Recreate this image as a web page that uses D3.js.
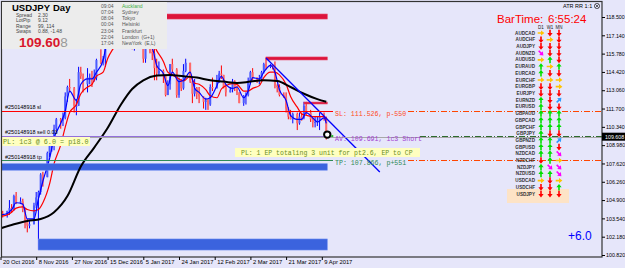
<!DOCTYPE html>
<meta charset="utf-8">
<title>USDJPY Day</title>
<style>
    body {
        margin: 0;
        background: #e6e6fa;
    }
    svg {
        display: block;
        font-family: "Liberation Sans", Arial, sans-serif;
    }
</style>

<body>
    <script src="https://cdn.jsdelivr.net/npm/d3@7"></script>
    <script>
        /* Daily USDJPY bars, 20 Oct 2016 .. 11 Apr 2017 (weekdays) */
        var firstDay = "2016-10-20", lastDay = "2017-04-11";
        var holidays = ["2016-12-25", "2017-01-01"];

        var opens = [103.4, 103.9, 103.8, 104.1, 104.3, 104.2, 105.2, 104.7, 104.8, 104.2,
            103.3, 103.0, 103.1, 104.5, 105.1, 105.5, 106.8, 106.6, 108.4, 109.1,
            109.1, 110.2, 110.9, 110.8, 111.0, 112.6, 113.3, 113.2, 111.9, 111.9,
            114.4, 114.1, 113.5, 114.0, 114.0, 113.8, 114.0, 115.3, 115.1, 115.4,
            117.1, 118.2, 117.9, 117.0, 117.8, 117.6, 117.4, 117.3, 117.4, 117.4,
            117.1, 116.5, 116.9, 117.4, 117.7, 117.2, 115.4, 116.9, 115.9, 115.8,
            114.7, 114.3, 114.5, 114.1, 112.7, 113.5, 115.0, 114.6, 112.7, 113.8,
            113.2, 114.5, 115.1, 113.7, 112.8, 113.2, 112.8, 112.6, 112.2, 112.3,
            112.0, 113.3, 113.2, 113.7, 114.3, 114.2, 113.3, 112.9, 113.1, 113.7,
            113.3, 112.9, 112.1, 112.6, 112.7, 113.7, 114.4, 114.0, 113.9, 113.9,
            114.4, 115.0, 114.8, 114.9, 114.8, 113.4, 113.3, 112.7, 112.6, 111.7,
            111.1, 110.9, 111.3, 110.6, 111.1, 111.0, 111.9, 111.4, 110.9, 110.7,
            110.7, 110.8, 111.1, 111.0];
        var highs = [104.1, 104.1, 104.1, 104.9, 104.6, 105.3, 105.5, 105.1, 105.0, 104.3,
            103.5, 103.4, 104.7, 105.5, 105.6, 106.9, 107.0, 108.5, 109.4, 109.2,
            110.5, 111.0, 111.0, 111.4, 112.9, 113.4, 113.9, 113.3, 112.4, 114.8,
            114.8, 114.3, 114.7, 114.3, 114.5, 114.6, 115.4, 116.1, 115.6, 117.2,
            118.7, 118.5, 118.0, 118.2, 118.0, 117.9, 117.6, 117.5, 117.6, 117.6,
            117.3, 117.0, 117.5, 118.6, 118.2, 117.5, 117.0, 117.0, 116.3, 116.9,
            115.4, 115.2, 114.6, 114.2, 113.8, 115.0, 115.4, 114.7, 114.0, 113.9,
            115.0, 115.4, 115.1, 114.0, 113.9, 113.3, 113.3, 112.6, 112.5, 112.4,
            113.5, 114.0, 114.2, 114.5, 114.9, 114.2, 113.5, 113.3, 113.9, 113.8,
            113.4, 112.9, 112.7, 112.9, 114.0, 114.5, 114.7, 114.0, 114.2, 114.5,
            115.1, 115.5, 115.0, 115.0, 115.2, 113.5, 113.5, 112.9, 112.9, 111.8,
            111.6, 111.4, 111.4, 111.4, 111.4, 112.2, 112.2, 111.6, 111.0, 111.1,
            111.1, 111.4, 111.4, 111.1];
        var lows = [103.3, 103.6, 103.6, 103.8, 104.0, 104.1, 104.6, 104.6, 104.0, 102.8,
            102.5, 102.8, 103.1, 104.3, 101.2, 105.3, 105.9, 106.6, 108.1, 108.5,
            108.6, 110.1, 110.2, 110.4, 110.9, 112.2, 112.9, 111.4, 111.2, 111.9,
            113.9, 112.9, 112.9, 113.5, 113.3, 113.7, 113.8, 115.0, 114.9, 114.8,
            117.0, 117.4, 116.6, 116.9, 117.0, 117.3, 117.1, 117.2, 117.2, 116.9,
            116.1, 116.0, 116.9, 117.4, 116.9, 115.1, 115.1, 115.8, 115.3, 113.8,
            113.8, 114.2, 113.6, 112.6, 112.7, 113.1, 114.3, 112.5, 112.5, 113.0,
            113.1, 114.4, 113.6, 112.1, 112.6, 112.4, 112.1, 111.7, 111.6, 111.6,
            111.9, 113.0, 113.2, 113.6, 113.9, 113.2, 112.6, 112.9, 112.9, 113.0,
            112.7, 112.1, 111.9, 112.0, 112.6, 113.5, 113.8, 113.6, 113.5, 113.8,
            114.3, 114.6, 114.7, 114.6, 113.2, 112.9, 112.6, 112.5, 111.4, 110.9,
            110.9, 110.6, 110.1, 110.5, 110.8, 110.9, 111.2, 110.7, 110.3, 110.3,
            110.4, 110.1, 110.8, 109.4];
        var closes = [103.9, 103.8, 104.1, 104.3, 104.2, 105.2, 104.7, 104.8, 104.2, 103.3,
            103.0, 103.1, 104.5, 105.1, 105.5, 106.8, 106.6, 108.4, 109.1, 109.1,
            110.2, 110.9, 110.8, 111.0, 112.6, 113.3, 113.2, 111.9, 111.9, 114.4,
            114.1, 113.5, 114.0, 114.0, 113.8, 114.0, 115.3, 115.1, 115.4, 117.1,
            118.2, 117.9, 117.0, 117.8, 117.6, 117.4, 117.3, 117.4, 117.4, 117.1,
            116.5, 116.9, 117.4, 117.7, 117.2, 115.4, 116.9, 115.9, 115.8, 114.7,
            114.3, 114.5, 114.1, 112.7, 113.5, 115.0, 114.6, 112.7, 113.8, 113.2,
            114.5, 115.1, 113.7, 112.8, 113.2, 112.8, 112.6, 112.2, 112.3, 112.0,
            113.3, 113.2, 113.7, 114.3, 114.2, 113.3, 112.9, 113.1, 113.7, 113.3,
            112.9, 112.1, 112.6, 112.7, 113.7, 114.4, 114.0, 113.9, 113.9, 114.4,
            115.0, 114.8, 114.9, 114.8, 113.4, 113.3, 112.7, 112.6, 111.7, 111.1,
            110.9, 111.3, 110.6, 111.1, 111.0, 111.9, 111.4, 110.9, 110.7, 110.7,
            110.8, 111.1, 111.0, 109.6];

        /* moving averages read every second bar (last value = last bar) */
        var maBlue = [103.8, 103.9, 104.2, 104.7, 104.6, 103.5, 103.5, 105.0, 106.3, 108.0,
            109.5, 110.6, 111.5, 113.0, 112.3, 113.5, 113.9, 113.9, 114.4, 115.3,
            116.9, 117.7, 117.5, 117.4, 117.4, 117.0, 116.9, 117.4, 116.5, 116.2,
            114.9, 114.3, 113.4, 114.4, 113.7, 113.8, 114.4, 113.2, 112.9, 112.4,
            112.5, 113.4, 114.1, 113.5, 113.2, 113.3, 112.5, 113.0, 114.0, 113.9,
            114.4, 114.9, 114.4, 113.1, 112.3, 111.2, 110.9, 110.9, 111.4, 111.0,
            110.7, 111.0, 110.6];
        var maRed = [103.7, 103.8, 104.0, 104.3, 104.4, 104.2, 104.1, 104.2, 104.7, 106.1,
            107.6, 109.0, 110.3, 111.4, 112.0, 112.8, 113.3, 113.5, 114.1, 114.4,
            115.4, 116.3, 117.0, 117.5, 117.5, 117.3, 117.2, 117.2, 116.9, 116.65,
            116.0, 115.2, 114.4, 114.2, 113.9, 113.75, 114.1, 113.6, 113.5, 113.1,
            112.65, 112.5, 113.15, 113.4, 113.55, 113.5, 113.0, 113.0, 113.2, 113.4,
            114.0, 114.4, 114.4, 114.2, 113.5, 112.6, 111.8, 111.3, 111.2, 111.1,
            111.1, 111.1, 110.8];

        /* slow moving average (black), read weekly */
        var slowDates = ["2016-10-20", "2016-10-27", "2016-11-03", "2016-11-10", "2016-11-17", "2016-11-24",
            "2016-12-01", "2016-12-08", "2016-12-15", "2016-12-22", "2016-12-29", "2017-01-05", "2017-01-12",
            "2017-01-19", "2017-01-26", "2017-02-02", "2017-02-09", "2017-02-16", "2017-02-23", "2017-03-02",
            "2017-03-09", "2017-03-16", "2017-03-23", "2017-03-30", "2017-04-06", "2017-04-11"];
        var slowMA = [102.8, 103.1, 103.35, 103.5, 104.0, 105.2, 107.4, 108.8, 110.25, 112.0, 113.15, 113.8,
            114.15, 114.2, 114.1, 114.0, 113.8, 113.7, 113.6, 113.7, 113.8, 113.75, 113.3, 112.8, 112.4, 112.2];

        /* drawn trend line */
        var trendDates = ["2017-03-10", "2017-05-09"];
        var trendPrices = [115.45, 106.98];

        /* supply / demand zones */
        var zoneStart = ["2016-12-15", "2017-03-10", "2017-03-30", "2016-10-20", "2016-11-09"];
        var zoneTop = [118.72, 115.53, 112.18, 107.60, 102.01];
        var zoneBottom = [118.35, 115.31, 112.04, 107.12, 101.19];
        var zoneKind = ["supply", "supply", "supply", "demand", "demand"];

        /* trade levels */
        var bid = 109.608, slPrice = 111.526, avPrice = 109.691, tpPrice = 107.866;

        /* axes */
        var priceTicks = [118.5, 117.14, 115.78, 114.42, 113.06, 111.7, 110.34, 108.98, 107.62, 106.26, 104.9, 103.54, 102.18, 100.82];
        var dateTicks = ["2016-10-20", "2016-11-08", "2016-11-27", "2016-12-15", "2017-01-05", "2017-01-24",
            "2017-02-12", "2017-03-02", "2017-03-21", "2017-04-09"];

        /* info panel */
        var infoKeys = ["Spread", "LotPip", "Range", "Swaps"];
        var infoVals = ["2.30", "9.12", "99, 114", "0.88, -1.48"];
        var sessionTimes = ["09:04", "07:04", "08:04", "00:04", "23:04", "22:04", "17:04"];
        var sessionCities = ["Auckland", "Sydney", "Tokyo", "Helsinki", "Frankfurt", "London  (G+1)", "NewYork  (E,L)"];

        /* trend dashboard */
        var pairs = ["AUDCAD", "AUDCHF", "AUDJPY", "AUDNZD", "AUDUSD", "EURAUD", "EURCAD", "EURCHF", "EURGBP",
            "EURJPY", "EURNZD", "EURUSD", "GBPAUD", "GBPCAD", "GBPCHF", "GBPJPY", "GBPNZD", "GBPUSD", "NZDCAD",
            "NZDCHF", "NZDJPY", "NZDUSD", "USDCAD", "USDCHF", "USDJPY"];
        var trendD1 = ["r", "d", "d", "dr", "r", "u", "u", "r", "d", "d", "u", "u", "u", "u", "u", "u", "u", "u", "u", "d", "u", "u", "r", "d", "d"];
        var trendW1 = ["d", "r", "d", "d", "u", "r", "d", "r", "d", "d", "d", "d", "u", "u", "u", "d", "u", "u", "u", "u", "dr", "u", "d", "d", "d"];
        var trendMN = ["d", "d", "d", "d", "d", "u", "d", "r", "r", "d", "ur", "d", "u", "u", "u", "d", "ur", "d", "dr", "r", "dr", "dr", "r", "u", "d"];
        var periods = ["D1", "W1", "MN"];

        /* ------------------------------------------------------------ */
        var width = 625, height = 268;
        var plotL = 2, plotR = 602, plotT = 2, plotB = 257;

        var parse = d3.utcParse("%Y-%m-%d");
        var fmtDay = d3.utcFormat("%Y-%m-%d");
        var day0 = parse(firstDay);

        // broker calendar: every day except Saturday and holidays gets a bar slot
        function slot(s) {
            var d = typeof s === "string" ? parse(s) : s;
            return d3.utcDay.range(day0, d)
                .filter(function (t) { return t.getUTCDay() !== 6 && holidays.indexOf(fmtDay(t)) < 0; }).length;
        }

        var barDates = d3.utcDay.range(day0, d3.utcDay.offset(parse(lastDay), 1))
            .filter(function (t) { return t.getUTCDay() > 0 && t.getUTCDay() < 6; });
        var bars = barDates.map(function (d, i) {
            return { s: slot(d), o: opens[i], h: highs[i], l: lows[i], c: closes[i] };
        });

        var x = d3.scaleLinear().domain([0, 144]).range([0.5, 321.8]);
        var y = d3.scaleLinear().domain([100.82, 118.5]).range([255, 17]);

        var svg = d3.select("body").append("svg")
            .attr("width", width)
            .attr("height", height);

        svg.append("rect").attr("width", width).attr("height", height).attr("fill", "#e6e6fa");

        svg.append("clipPath").attr("id", "plot")
            .append("rect").attr("x", plotL).attr("y", plotT)
            .attr("width", plotR - plotL).attr("height", plotB - plotT);

        var g = svg.append("g").attr("clip-path", "url(#plot)");

        /* candles */
        var candles = g.append("g");
        candles.selectAll("line").data(bars).enter().append("line")
            .attr("x1", function (d) { return x(d.s); })
            .attr("x2", function (d) { return x(d.s); })
            .attr("y1", function (d) { return y(d.h); })
            .attr("y2", function (d) { return y(d.l); })
            .attr("stroke", function (d) { return d.c >= d.o ? "#0000ff" : "#ff0000"; })
            .attr("stroke-width", 1);
        candles.selectAll("rect").data(bars).enter().append("rect")
            .attr("x", function (d) { return x(d.s) - 1; })
            .attr("width", 2)
            .attr("y", function (d) { return y(Math.max(d.o, d.c)); })
            .attr("height", function (d) { return Math.max(1, Math.abs(y(d.o) - y(d.c))); })
            .attr("fill", function (d) { return d.c >= d.o ? "#4a5cff" : "#ff6a6a"; });

        /* fast moving averages */
        var maIdx = d3.range(0, bars.length - 1, 2).concat([bars.length - 1]);
        var line = d3.line()
            .x(function (d) { return x(d[0]); })
            .y(function (d) { return y(d[1]); })
            .curve(d3.curveMonotoneX);

        g.append("path")
            .datum(maIdx.map(function (b, k) { return [bars[b].s, maRed[k]]; }))
            .attr("d", line).attr("fill", "none").attr("stroke", "#ff0000").attr("stroke-width", 1.2);
        g.append("path")
            .datum(maIdx.map(function (b, k) { return [bars[b].s, maBlue[k]]; }))
            .attr("d", line).attr("fill", "none").attr("stroke", "#0000ff").attr("stroke-width", 1.2);

        /* zones */
        var endX = x(slot(lastDay)) + 1;
        g.selectAll("rect.zone").data(zoneStart).enter().append("rect")
            .attr("class", "zone")
            .attr("x", function (d) { return x(slot(d)); })
            .attr("width", function (d) { return endX - x(slot(d)); })
            .attr("y", function (d, i) { return y(zoneTop[i]); })
            .attr("height", function (d, i) { return y(zoneBottom[i]) - y(zoneTop[i]); })
            .attr("fill", function (d, i) { return zoneKind[i] === "supply" ? "#dc143c" : "#3b63de"; })
            .attr("stroke", function (d, i) { return zoneKind[i] === "supply" ? "#e8405e" : "#6d8cf0"; })
            .attr("stroke-width", 0.6);

        /* slow moving average */
        g.append("path")
            .datum(slowDates.map(function (d, i) { return [slot(d), slowMA[i]]; }))
            .attr("d", line).attr("fill", "none").attr("stroke", "#000").attr("stroke-width", 2);

        /* trend line */
        g.append("line")
            .attr("x1", x(slot(trendDates[0]))).attr("y1", y(trendPrices[0]))
            .attr("x2", x(slot(trendDates[1]))).attr("y2", y(trendPrices[1]))
            .attr("stroke", "#0000ff").attr("stroke-width", 1.3);

        /* trade lines */
        var tradeEnd = 333;
        function hline(p, x1, x2, color, dash) {
            g.append("line").attr("x1", x1).attr("x2", x2).attr("y1", Math.round(y(p)) + 0.5).attr("y2", Math.round(y(p)) + 0.5)
                .attr("stroke", color).attr("stroke-width", 1).attr("stroke-dasharray", dash || null);
        }
        hline(bid, plotL, plotR, "#a8a8a8");
        hline(slPrice, plotL, tradeEnd, "#ff0000");
        hline(avPrice, plotL, tradeEnd, "#9370db");
        hline(tpPrice, plotL, tradeEnd, "#2e8b57");
        hline(slPrice, 408, plotR, "#ff4500", "6,2,1,2");
        hline(avPrice, 420, plotR, "#2e6b2e", "6,2,1,2");
        hline(tpPrice, 408, plotR, "#ff4500", "6,2,1,2");

        var tradeLabels = ["#250148918 sl", "#250148918 sell 0.03", "#250148918 tp"];
        [slPrice, avPrice, tpPrice].forEach(function (p, i) {
            g.append("text").attr("x", 5).attr("y", y(p) - 1.5)
                .attr("font-size", 5.5).attr("fill", "#000").text(tradeLabels[i]);
        });

        var mono = '"Liberation Mono", "DejaVu Sans Mono", monospace';
        var levelText = ["SL: 111.526, p-550", "AV: 109.691, 1c3 Short", "TP: 107.866, p+551"];
        var levelColor = ["#ff4a1a", "#a040d0", "#2e8b57"];
        [slPrice, avPrice, tpPrice].forEach(function (p, i) {
            svg.append("text").attr("x", 335).attr("y", y(p) + 5)
                .attr("font-family", mono).attr("font-size", 6.6).attr("fill", levelColor[i]).text(levelText[i]);
        });

        /* PL boxes */
        svg.append("rect").attr("x", 2).attr("y", 137).attr("width", 88).attr("height", 9).attr("fill", "#ffffc0");
        svg.append("text").attr("x", 3).attr("y", 144).attr("font-family", mono).attr("font-size", 6.8)
            .attr("fill", "#6b8e23").text("PL: 1c3 @ 6.0 = p18.0");
        svg.append("rect").attr("x", 235).attr("y", 148).attr("width", 185).attr("height", 9).attr("fill", "#ffffc0");
        svg.append("text").attr("x", 241).attr("y", 155).attr("font-family", mono).attr("font-size", 6.5)
            .attr("fill", "#6b8e23").text("PL: 1 EP totaling 3 unit for pt2.6, EP to CP");

        /* entry marker */
        var lastBar = bars[bars.length - 1];
        svg.append("circle").attr("cx", x(lastBar.s) + 1).attr("cy", y(avPrice) - 1).attr("r", 3.2)
            .attr("fill", "#fff").attr("stroke", "#000").attr("stroke-width", 2);
        svg.append("rect").attr("x", x(lastBar.s) + 5).attr("y", y(avPrice) - 0.5).attr("width", 2).attr("height", 2).attr("fill", "#22bb22");

        /* frame */
        svg.append("rect").attr("x", 1.5).attr("y", 1.5).attr("width", plotR - 1.5).attr("height", plotB - 1.5)
            .attr("fill", "none").attr("stroke", "#333").attr("stroke-width", 1.2);

        /* price axis */
        var yAxis = d3.axisRight(y).tickValues(priceTicks).tickFormat(d3.format(".3f")).tickSize(3).tickPadding(1);
        var ya = svg.append("g").attr("transform", "translate(" + plotR + ",0)").call(yAxis);
        ya.select(".domain").remove();
        ya.selectAll("text").attr("font-size", 5.3).attr("font-family", null).attr("fill", "#000");
        ya.selectAll("line").attr("stroke", "#000");

        svg.append("rect").attr("x", plotR).attr("y", y(bid) - 4).attr("width", 23).attr("height", 8).attr("fill", "#000");
        svg.append("text").attr("x", plotR + 3).attr("y", y(bid) + 2).attr("font-size", 5.3).attr("fill", "#fff")
            .text(d3.format(".3f")(bid));

        /* date axis */
        var fmtLabel = d3.utcFormat("%-d %b %Y");
        var xAxis = d3.axisBottom(x).tickValues(dateTicks.map(slot))
            .tickFormat(function (s, i) { return fmtLabel(parse(dateTicks[i])); }).tickSize(3).tickPadding(1);
        var xa = svg.append("g").attr("transform", "translate(0," + plotB + ")").call(xAxis);
        xa.select(".domain").remove();
        xa.selectAll("text").attr("font-size", 5.8).attr("font-family", null).attr("fill", "#000")
            .attr("text-anchor", "start").attr("dx", 2).attr("dy", "0.55em");
        xa.selectAll("line").attr("stroke", "#000");

        /* info panel */
        svg.append("rect").attr("x", 2).attr("y", 2).attr("width", 165).attr("height", 47).attr("fill", "#ececec");
        svg.append("text").attr("x", 12).attr("y", 11).attr("font-size", 9.5).attr("font-weight", "bold").text("USDJPY");
        svg.append("text").attr("x", 53).attr("y", 11).attr("font-size", 9.5).attr("font-weight", "bold").text("Day");
        infoKeys.forEach(function (k, i) {
            svg.append("text").attr("x", 16).attr("y", 16.5 + i * 5.6).attr("font-size", 5).attr("fill", "#444").text(k);
            svg.append("text").attr("x", 38).attr("y", 16.5 + i * 5.6).attr("font-size", 5).attr("fill", "#444").text(infoVals[i]);
        });
        var pt = svg.append("text").attr("x", 19).attr("y", 47).attr("font-size", 13.5).attr("font-weight", "bold");
        var bidStr = d3.format(".3f")(bid);
        pt.append("tspan").attr("fill", "#d8162c").text(bidStr.slice(0, -1));
        pt.append("tspan").attr("fill", "#999").attr("font-weight", "normal").text(bidStr.slice(-1));
        sessionTimes.forEach(function (t, i) {
            svg.append("text").attr("x", 101).attr("y", 8 + i * 6.15).attr("font-size", 5).attr("fill", "#555").text(t);
            svg.append("text").attr("x", 122).attr("y", 8 + i * 6.15).attr("font-size", 5)
                .attr("fill", i === 0 ? "#3cb043" : "#555").attr("xml:space", "preserve").text(sessionCities[i]);
        });

        /* top right */
        svg.append("text").attr("x", 563).attr("y", 8).attr("font-size", 5.5).attr("fill", "#000").text("ATR RR 1:1");
        svg.append("circle").attr("cx", 597).attr("cy", 6).attr("r", 2.6).attr("fill", "none").attr("stroke", "#000").attr("stroke-width", 0.6);
        svg.append("path").attr("d", "M595.5,4.5L598.5,7.5M598.5,4.5L595.5,7.5").attr("stroke", "#000").attr("stroke-width", 0.6);
        svg.append("text").attr("x", 497).attr("y", 23).attr("font-size", 11.5).attr("fill", "#ff0000").text("BarTime:");
        svg.append("text").attr("x", 548).attr("y", 23).attr("font-size", 11.5).attr("fill", "#ff0000").text("6:55:24");

        /* dashboard */
        var colX = d3.scalePoint().domain(periods).range([541, 559]);
        var rowY = d3.scalePoint().domain(pairs).range([33, 194]);
        var arrowRot = { d: 0, u: 180, r: -90, dr: -45, ur: -135 };
        var arrowCol = { d: "#ff0000", u: "#00e000", r: "#ffc400", dr: "#ff00ff", ur: "#2f9bff" };
        var arrowPath = "M-0.8,-3.3L0.8,-3.3L0.8,0L2.6,0L0,3.4L-2.6,0L-0.8,0Z";

        svg.append("rect").attr("x", 507).attr("y", rowY("USDJPY") - 5).attr("width", 62).attr("height", 14).attr("fill", "#fde3c6");
        periods.forEach(function (p) {
            svg.append("text").attr("x", colX(p)).attr("y", 28.5).attr("font-size", 4.5)
                .attr("text-anchor", "middle").attr("fill", "#222").text(p);
        });
        var dash = svg.append("g");
        pairs.forEach(function (p, i) {
            dash.append("text").attr("x", 535).attr("y", rowY(p) + 1.6).attr("font-size", 4.6)
                .attr("font-weight", "bold").attr("text-anchor", "end").attr("fill", "#333").text(p);
            [trendD1[i], trendW1[i], trendMN[i]].forEach(function (c, j) {
                dash.append("path").attr("d", arrowPath)
                    .attr("transform", "translate(" + colX(periods[j]) + "," + rowY(p) + ") rotate(" + arrowRot[c] + ")")
                    .attr("fill", arrowCol[c]);
            });
        });

        svg.append("text").attr("x", 568).attr("y", 240).attr("font-size", 12).attr("fill", "#0000ff").text("+6.0");
    </script>
</body>
